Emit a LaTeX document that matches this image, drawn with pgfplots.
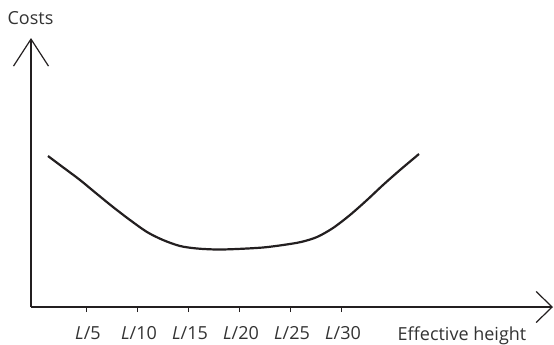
\documentclass[border=0pt]{standalone}
\usepackage{fontspec}
\setmainfont{Open Sans}
\usepackage{pgfplots}
\pgfplotsset{compat=1.18}
\usetikzlibrary{arrows.meta}
\definecolor{txt}{HTML}{333333}
\definecolor{crv}{HTML}{231F20}
\begin{document}
\begin{tikzpicture}
\begin{axis}[
  x=1bp, y=1bp,
  xmin=0, xmax=522, ymin=0, ymax=269,
  axis lines=left,
  axis line style={line width=1.2bp, color=crv},
  x axis line style={-{Straight Barb[length=16bp,width=31bp]}},
  y axis line style={-{Straight Barb[length=27bp,width=35bp]}},
  xtick={55,106,157,208,259,310},
  xticklabels={\textit{L}/5,\textit{L}/10,\textit{L}/15,\textit{L}/20,\textit{L}/25,\textit{L}/30},
  ytick=\empty,
  tick align=outside,
  major tick length=5bp,
  tick style={line width=1bp, color=crv},
  xticklabel style={anchor=base, yshift=-27bp, xshift=2bp, font=\fontsize{18bp}{20bp}\selectfont, text=txt, inner sep=0pt},
  clip=false,
]
\addplot[smooth, line width=2.2bp, color=crv] coordinates {
(17,151) (33,139) (49,127) (66,113) (82,100) (99,87) (116,75) (132,67)
(149,61) (166,58.5) (186,57.5) (206,58) (232,59.5) (252,62) (270,65)
(286,70) (302,79) (319,92) (336,107) (352,122) (369,137) (388,153)
};
\node[anchor=base, text=txt, font=\fontsize{18bp}{20bp}\selectfont, inner sep=0pt] at (axis cs:-0.5,283) {Costs};
\node[anchor=base, text=txt, font=\fontsize{18bp}{20bp}\selectfont, inner sep=0pt] at (axis cs:431,-33.5) {Effective height};
\coordinate (bl) at (axis cs:-31,-37);
\coordinate (tr) at (axis cs:523,307);
\end{axis}
\pgfresetboundingbox
\useasboundingbox (bl) rectangle (tr);
\end{tikzpicture}
\end{document}
